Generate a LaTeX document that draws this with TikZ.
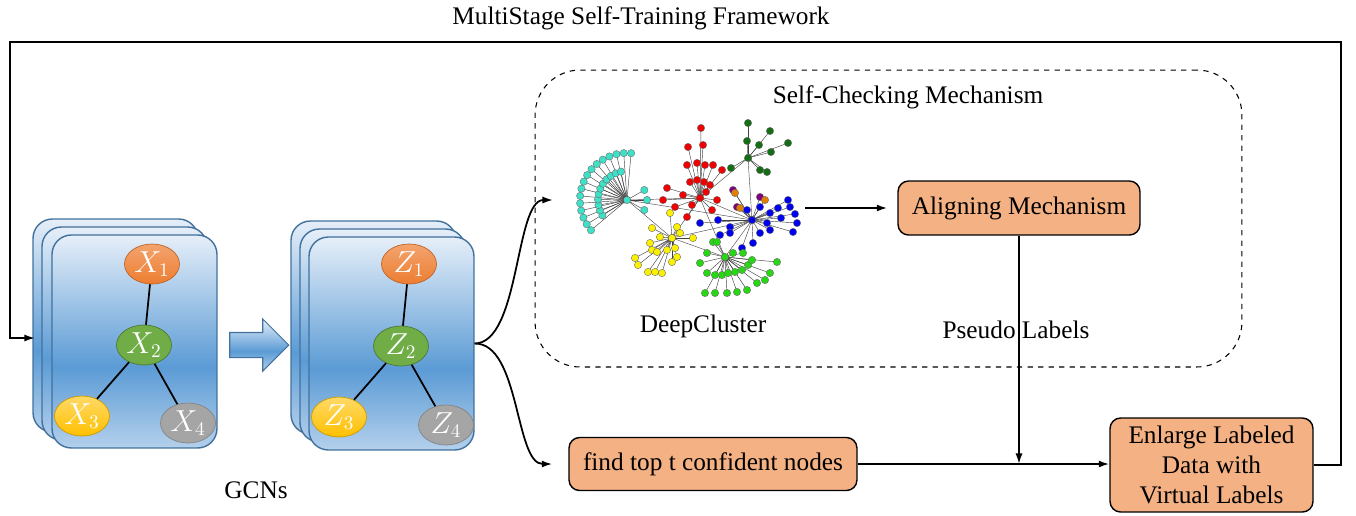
\documentclass[tikz,border=0pt]{standalone}
\usepackage{fontspec}
\setmainfont{Liberation Serif}
\usetikzlibrary{arrows.meta}
\usetikzlibrary{shapes.geometric}
\usetikzlibrary{shapes.arrows}

\definecolor{cardline}{HTML}{41719C}
\definecolor{cardtop}{HTML}{E6EFF9}
\definecolor{cardmid}{HTML}{5B9BD5}
\definecolor{cardbot}{HTML}{B4D0EC}
\definecolor{boxfill}{HTML}{F4B183}
\definecolor{ballorange}{HTML}{ED7D31}
\definecolor{ballgreen}{HTML}{70AD47}
\definecolor{ballyellow}{HTML}{FFC000}
\definecolor{ballgray}{HTML}{A5A5A5}
\definecolor{dccyan}{RGB}{64,224,200}
\definecolor{dcred}{RGB}{240,0,0}
\definecolor{dcdark}{RGB}{20,110,20}
\definecolor{dcblue}{RGB}{0,0,240}
\definecolor{dcyellow}{RGB}{250,240,0}
\definecolor{dcgreen}{RGB}{40,215,20}
\definecolor{dcpurple}{RGB}{128,0,128}
\definecolor{dcorange}{RGB}{225,128,0}

\pgfdeclareverticalshading{cardshade}{100bp}{color(0bp)=(cardbot); color(25bp)=(cardbot); color(44bp)=(cardmid); color(75bp)=(cardtop); color(100bp)=(cardtop)}

\newcommand{\redpts}{701/128,703/145,688/147,687/165,697/163,705/165,713/165,722/170,690/182,697/180,704/182,667/188,663/200,675/207,687/217,712/210,717/200,692/205,706/192,683/195,710/185}
\newcommand{\darkpts}{748/123,770/131,788/143,771/152,759/145,747/141,731/168,760/170,767/172}
\newcommand{\bluepts}{788/200,790/207,795/214,797/223,793/232,770/213,767/223,770/230,760/233,753/243,742/248,700/223,718/220,730/227,720/235,730/233,760/207,747/210,778/208,781/218}
\newcommand{\yellowpts}{670/213,652/228,660/237,677/227,680/233,693/238,650/243,652/250,657/252,667/250,675/248,635/258,638/265,648/272,655/272,662/273,677/257,672/262}
\newcommand{\greenpts}{700/263,707/253,713/242,717/242,707/273,715/275,722/275,728/273,735/272,742/270,748/265,752/260,777/262,770/273,765/280,757/283,747/290,737/292,727/293,715/293,705/293,733/253,743/253}

\tikzset{
  card/.style={draw=cardline, line width=0.8pt, rounded corners=11pt, shading=cardshade, minimum width=3.3cm, minimum height=4.26cm, inner sep=0pt},
  ball/.style={ellipse, minimum width=1.1cm, minimum height=0.8cm, inner sep=0pt, text=white, font=\fontsize{16}{16}\selectfont},
  bigarrow/.style={single arrow, draw=cardline, line width=0.6pt, shading=cardshade, minimum height=1.18cm, inner xsep=0pt, inner ysep=0.24cm, single arrow head extend=0.27cm, single arrow head indent=0pt},
  procbox/.style={draw=black, line width=0.8pt, fill=boxfill, rounded corners=6pt, minimum height=1.08cm, inner sep=2pt},
  dashbox/.style={draw=black, dashed, line width=0.6pt, rounded corners=0.9cm, minimum width=14.14cm, minimum height=5.94cm},
  flow/.style={line width=1pt, -{Latex[length=6pt,width=4pt]}},
  edge/.style={line width=1pt},
  spoke/.style={line width=0.25pt, draw=black!75, -{Stealth[length=2.2pt,width=1.6pt]}},
  link/.style={line width=0.25pt, draw=black!70},
  dot/.style={circle, draw=black!60, line width=0.2pt, inner sep=0pt, minimum size=4.2pt}
}

\begin{document}
\begin{tikzpicture}[x=0.02cm, y=-0.02cm, font=\fontsize{14.4}{17}\selectfont]
\useasboundingbox (0,0) rectangle (1356,515);

\node (title) at (641,18) {MultiStage Self-Training Framework};

\node[card] (inA) at (115.5,325.5) {};
\node[card] (inB) at (124.5,333.5) {};
\node[card] (inC) at (134.5,341.5) {};
\node[ball, draw=ballorange!80!black, top color=ballorange!70!white, bottom color=ballorange] (x1) at (152,264) {$X_1$};
\node[ball, draw=ballgreen!70!black, fill=ballgreen] (x2) at (144,345) {$X_2$};
\node[ball, draw=ballyellow!80!black, top color=ballyellow!60!white, bottom color=ballyellow] (x3) at (82,416) {$X_3$};
\node[ball, draw=ballgray!80!black, fill=ballgray] (x4) at (188,423) {$X_4$};
\draw[edge] (x1) -- (x2);
\draw[edge] (x2) -- (x3);
\draw[edge] (x2) -- (x4);

\node[bigarrow] (gcnarrow) at (253,345) {};

\node[card] (outA) at (373.5,327.5) {};
\node[card] (outB) at (382.5,335.5) {};
\node[card] (outC) at (391.5,343.5) {};
\node[ball, draw=ballorange!80!black, top color=ballorange!70!white, bottom color=ballorange] (z1) at (409,264) {$Z_1$};
\node[ball, draw=ballgreen!70!black, fill=ballgreen] (z2) at (401,346) {$Z_2$};
\node[ball, draw=ballyellow!80!black, top color=ballyellow!60!white, bottom color=ballyellow] (z3) at (339,417) {$Z_3$};
\node[ball, draw=ballgray!80!black, fill=ballgray] (z4) at (446,425) {$Z_4$};
\draw[edge] (z1) -- (z2);
\draw[edge] (z2) -- (z3);
\draw[edge] (z2) -- (z4);

\node (gcns) at (256,490) {GCNs};

\node[dashbox] (scm) at (888.5,218.5) {};
\node (scmlabel) at (908,97) {Self-Checking Mechanism};

\coordinate (hc) at (627,200);
\coordinate (rh) at (700,198);
\coordinate (gh) at (748,158);
\coordinate (bh) at (752,220);
\coordinate (yh) at (672,238);
\coordinate (lh) at (725,257);
\draw[link] (hc) -- (rh);
\draw[link] (hc) -- (bh);
\draw[link] (hc) -- (yh);
\draw[link] (rh) -- (bh);
\draw[link] (rh) -- (yh);
\draw[link] (rh) -- (lh);
\draw[link] (gh) -- (rh);
\draw[link] (gh) -- (bh);
\draw[link] (yh) -- (lh);
\draw[link] (bh) -- (lh);
\draw[link] (yh) -- (bh);
\foreach \a in {140,149,...,275} \draw[spoke] ([shift={(\a:47)}]hc) -- (hc);
\foreach \a in {148,159,...,262} \draw[spoke] ([shift={(\a:29)}]hc) -- (hc);
\foreach \a in {-30,0,30} \draw[spoke] ([shift={(\a:20)}]hc) -- (hc);
\foreach \px/\py in \redpts \draw[spoke] (\px,\py) -- (rh);
\foreach \px/\py in \darkpts \draw[spoke] (\px,\py) -- (gh);
\foreach \px/\py in \bluepts \draw[spoke] (\px,\py) -- (bh);
\foreach \px/\py in \yellowpts \draw[spoke] (\px,\py) -- (yh);
\foreach \px/\py in \greenpts \draw[spoke] (\px,\py) -- (lh);
\foreach \px/\py in {733/190,737/207,760/197,735/193,740/208,765/200} \draw[spoke] (\px,\py) -- (bh);
\foreach \a in {140,149,...,275} \node[dot, fill=dccyan] (co\a) at ([shift={(\a:47)}]hc) {};
\foreach \a in {148,159,...,262} \node[dot, fill=dccyan] (ci\a) at ([shift={(\a:29)}]hc) {};
\foreach \a in {-30,0,30} \node[dot, fill=dccyan] (cr\a) at ([shift={(\a:20)}]hc) {};
\foreach \px/\py in \redpts \node[dot, fill=dcred] (r\px-\py) at (\px,\py) {};
\foreach \px/\py in \darkpts \node[dot, fill=dcdark] (d\px-\py) at (\px,\py) {};
\foreach \px/\py in \bluepts \node[dot, fill=dcblue] (b\px-\py) at (\px,\py) {};
\foreach \px/\py in \yellowpts \node[dot, fill=dcyellow] (y\px-\py) at (\px,\py) {};
\foreach \px/\py in \greenpts \node[dot, fill=dcgreen] (g\px-\py) at (\px,\py) {};
\foreach \px/\py in {733/190,737/207,760/197} \node[dot, fill=dcpurple] (p\px-\py) at (\px,\py) {};
\foreach \px/\py in {735/193,740/208,765/200} \node[dot, fill=dcorange] (o\px-\py) at (\px,\py) {};
\node[dot, fill=dccyan] (hcdot) at (hc) {};
\node[dot, fill=dcred] (rhdot) at (rh) {};
\node[dot, fill=dcdark] (ghdot) at (gh) {};
\node[dot, fill=dcblue] (bhdot) at (bh) {};
\node[dot, fill=dcyellow] (yhdot) at (yh) {};
\node[dot, fill=dcgreen] (lhdot) at (lh) {};

\node (dclabel) at (703,326) {DeepCluster};
\node[procbox, minimum width=4.84cm] (align) at (1019,208) {Aligning Mechanism};
\node (pseudo) at (1016,330) {Pseudo Labels};
\node[procbox, minimum width=5.76cm, minimum height=1.06cm] (find) at (713,464) {find top t confident nodes};
\node[procbox, minimum width=4.06cm, minimum height=1.88cm, align=center] (enl) at (1211.5,465) {Enlarge Labeled\\Data with\\Virtual Labels};

\coordinate (dcin) at (553,200);
\coordinate (dcout) at (805,208);
\coordinate (fbin) at (35,338);
\draw[flow] (outC.east) .. controls (520,343) and (515,200) .. (dcin);
\draw[flow, shorten >=0.32cm] (outC.east) .. controls (520,343) and (515,464) .. (find.west);
\draw[flow, shorten >=0.2cm] (dcout) -- (align.west);
\draw[flow] (align.south) -- (align.south |- find.east);
\draw[flow] (find.east) -- (enl.west |- find.east);
\draw[flow] (enl.east) -| (1341,42) -| (10,338) -- (fbin);
\end{tikzpicture}
\end{document}
